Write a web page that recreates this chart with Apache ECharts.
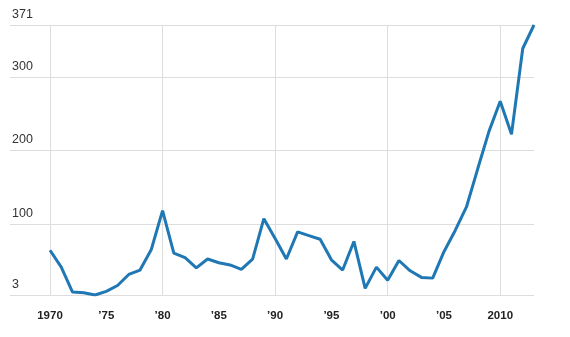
<!DOCTYPE html>
<html>
<head>
<meta charset="utf-8">
<script src="https://cdn.jsdelivr.net/npm/echarts@6/dist/echarts.min.js"></script>
<style>
html,body{margin:0;padding:0;background:#fff;}
#chart{width:570px;height:337px;}
</style>
</head>
<body>
<div id="chart"></div>
<script>
const years = [1970,1971,1972,1973,1974,1975,1976,1977,1978,1979,1980,1981,1982,1983,1984,1985,1986,1987,1988,1989,1990,1991,1992,1993,1994,1995,1996,1997,1998,1999,2000,2001,2002,2003,2004,2005,2006,2007,2008,2009,2010,2011,2012,2013];
const values = [64,41,7,6,3,8,16,31,37,65,118,60,54,40,52,47,44,38,52,107,80,52,89,84,79,51,37,76,12,41,23,50,36,27,26,62,91,123,175,226,267,222,339,371];
const yMin = 3, yMax = 371;
const xMin = 1970, xMax = 2013;
const fullLabelYears = [1970, 2010];

const font = "'Liberation Sans', Arial, Helvetica, sans-serif";
const gridColor = '#dddddd';
const chart = echarts.init(document.getElementById('chart'), null, {renderer: 'canvas'});
chart.setOption({
  animation: false,
  textStyle: {fontFamily: font},
  grid: [
    {left: 10, right: 36, top: 25, bottom: 42},
    {left: 50, right: 36, top: 25, bottom: 42}
  ],
  xAxis: [
    {gridIndex: 0, type: 'value', min: 0, max: 1, show: false},
    {
      gridIndex: 1, type: 'value', min: xMin, max: xMax, interval: 5, position: 'bottom',
      axisLine: {show: false}, axisTick: {show: false}, splitLine: {show: false},
      axisLabel: {
        margin: 15, fontSize: 11.5, fontWeight: 'bold', color: '#222', fontFamily: font,
        showMaxLabel: false,
        formatter: function (v) {
          if (v % 5 !== 0) return '';
          if (fullLabelYears.indexOf(v) >= 0) return String(v);
          return '\u2019' + String(v).slice(2);
        }
      }
    },
    {
      gridIndex: 1, type: 'value', min: xMin, max: xMax, interval: 10, position: 'top',
      axisLine: {show: false}, axisTick: {show: false}, axisLabel: {show: false},
      splitLine: {show: true, showMaxLine: false, lineStyle: {color: gridColor, width: 1}}
    }
  ],
  yAxis: [
    {
      gridIndex: 0, type: 'value', min: yMin, max: yMax, splitNumber: 4,
      axisLine: {show: false}, axisTick: {show: false},
      splitLine: {show: true, lineStyle: {color: gridColor, width: 1}},
      axisLabel: {
        inside: true, margin: 2, verticalAlign: 'bottom', fontSize: 12.5, color: '#333',
        fontFamily: font, padding: [0, 0, 4, 0]
      }
    },
    {gridIndex: 1, type: 'value', min: yMin, max: yMax, show: false}
  ],
  series: [{
    type: 'line',
    xAxisIndex: 1, yAxisIndex: 1,
    data: years.map((y, i) => [y, values[i]]),
    symbol: 'none',
    lineStyle: {color: '#1f78b4', width: 3},
    z: 5
  }]
});
</script>
</body>
</html>
